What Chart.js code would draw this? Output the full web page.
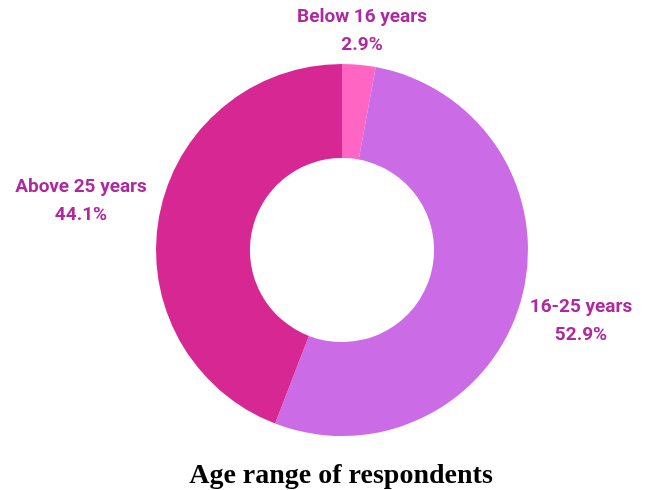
<!DOCTYPE html>
<html>
<head>
<meta charset="utf-8">
<script src="https://cdn.jsdelivr.net/npm/chart.js@4.4.0/dist/chart.umd.min.js"></script>
<style>
  html, body { margin: 0; padding: 0; background: #fff; }
  #wrap { width: 645px; height: 490px; position: relative; }
</style>
</head>
<body>
<div id="wrap"><canvas id="myChart" width="645" height="490"></canvas></div>
<script>
// data
var labels = ['Below 16 years', '16-25 years', 'Above 25 years'];
var values = [2.9, 52.9, 44.1];
var colors = ['#ff66c4', '#cb6ce6', '#d62792'];

// where each outside label sits, relative to the doughnut centre (px)
var labelOffsets = [[20, -233], [239, 57], [-261, -63]];
var titleText = 'Age range of respondents';

var outsideLabels = {
    id: 'outsideLabels',
    afterDraw: function(chart) {
        var ctx = chart.ctx;
        var arc = chart.getDatasetMeta(0).data[0];
        var cx = arc.x, cy = arc.y;
        ctx.save();
        ctx.textAlign = 'center';
        ctx.textBaseline = 'middle';
        ctx.fillStyle = '#b0289f';
        ctx.font = 'bold 19px Roboto';
        for (var i = 0; i < labels.length; i++) {
            var x = cx + labelOffsets[i][0];
            var y = cy + labelOffsets[i][1];
            ctx.fillText(labels[i], x, y);
            ctx.fillText(values[i].toFixed(1) + '%', x, y + 28);
        }
        // title under the chart
        ctx.fillStyle = '#000';
        ctx.textBaseline = 'alphabetic';
        ctx.font = 'bold 28px "Liberation Serif"';
        ctx.fillText(titleText, 341, 483);
        ctx.restore();
    }
};

var ctx = document.getElementById('myChart').getContext('2d');
var myChart = new Chart(ctx, {
    type: 'doughnut',
    data: {
        labels: labels,
        datasets: [{
            data: values,
            backgroundColor: colors,
            borderWidth: 0
        }]
    },
    options: {
        responsive: false,
        animation: false,
        cutout: '49.5%',
        layout: {
            padding: { top: 64, bottom: 54, left: 156, right: 117 }
        },
        plugins: {
            legend: { display: false },
            tooltip: { enabled: false }
        }
    },
    plugins: [outsideLabels]
});
</script>
</body>
</html>
